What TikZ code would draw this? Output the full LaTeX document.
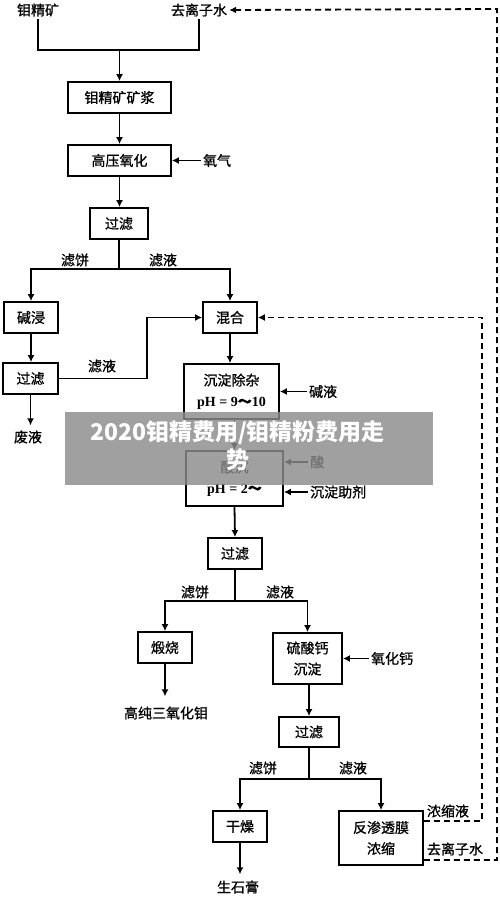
\documentclass[tikz,border=0pt]{standalone}
\usepackage{fontspec}
\setmainfont{Liberation Serif}
\newfontfamily\cjk{Noto Sans CJK SC}[FakeBold=0.9]
\newfontfamily\cjkmark{Noto Sans CJK SC}
\usetikzlibrary{arrows.meta, positioning, calc}
\tikzset{
    procbox/.style={rectangle, draw=black, line width=1.8pt, font=\cjk\fontsize{14}{21}\selectfont, align=center, inner sep=0pt},
    tagtext/.style={font=\cjk\fontsize{14}{17}\selectfont, inner sep=2pt},
    flowline/.style={line width=1.8pt, black},
    flowarr/.style={flowline, -{Latex[length=7pt,width=7pt]}},
    backloop/.style={line width=1.8pt, black, dash pattern=on 6pt off 4pt, -{Latex[length=7pt,width=7pt]}},
}

\begin{document}
\begin{tikzpicture}[x=1pt,y=-1pt,
  wmband/.style={rectangle, fill=black!45, fill opacity=0.82, draw=none, minimum width=368pt, minimum height=73pt},
  wmtext/.style={font=\cjkmark\bfseries\fontsize{23}{28}\selectfont, text=white, align=center}
]
\fill[white] (0,0) rectangle (500,897);
\useasboundingbox (0,0) rectangle (500,897);

% feeds
\node[tagtext] (ore) at (38,10) {钼精矿};
\node[tagtext] (water) at (199,10) {去离子水};
\coordinate (feedjoin) at (119.5,50);

% main line
\node[procbox,minimum width=103pt,minimum height=31pt] (slurry) at (119.5,97.5) {钼精矿矿浆};
\node[procbox,minimum width=103pt,minimum height=31pt] (oxid) at (119.5,160.5) {高压氧化};
\node[tagtext,right=29pt of oxid] (oxygen) {氧气};
\node[procbox,minimum width=58pt,minimum height=31pt] (filtA) at (119,223.5) {过滤};
\coordinate (splitA) at (119,269);
\node[tagtext] at (75,260) {滤饼};
\node[tagtext] at (163,260) {滤液};

\node[procbox,minimum width=54pt,minimum height=31pt] (leach) at (31,317.5) {碱浸};
\node[procbox,minimum width=54pt,minimum height=31pt] (mix) at (230,317.5) {混合};
\node[procbox,minimum width=55pt,minimum height=31pt] (filtB) at (30.5,378.5) {过滤};
\node[tagtext] (waste) at (28,437) {废液};
\coordinate (turnB) at (147,378.5);
\node[tagtext] at (102,366) {滤液};

\node[procbox,minimum width=95pt,minimum height=55pt] (purify) at (231.5,391.5) {沉淀除杂\\{\rmfamily\bfseries pH = 9{\cjk ～}10}};
\node[tagtext,right=27pt of purify] (alkali) {碱液};
\node[procbox,minimum width=97pt,minimum height=55pt] (acid) at (234.5,478.5) {酸沉\\{\rmfamily\bfseries pH = 2{\cjk ～}}};
\node[tagtext,anchor=west] (acidin) at (308,462) {酸};
\node[tagtext,anchor=west] (aid) at (308,492) {沉淀助剂};
\node[procbox,minimum width=54pt,minimum height=31pt] (filtC) at (235,553.5) {过滤};
\coordinate (splitC) at (235,601);
\node[tagtext] at (195,592) {滤饼};
\node[tagtext] at (280,592) {滤液};

\node[procbox,minimum width=54pt,minimum height=31pt] (calcine) at (165,647.5) {煅烧};
\node[tagtext] (product) at (166,713) {高纯三氧化钼};
\node[procbox,minimum width=69pt,minimum height=51pt] (gypsum) at (307.5,658.5) {硫酸钙\\沉淀};
\node[tagtext,right=26pt of gypsum] (lime) {氧化钙};
\node[procbox,minimum width=60pt,minimum height=30pt] (filtD) at (309,732) {过滤};
\coordinate (splitD) at (309,779);
\node[tagtext] at (263,768) {滤饼};
\node[tagtext] at (353,768) {滤液};

\node[procbox,minimum width=54pt,minimum height=31pt] (dry) at (240,826.5) {干燥};
\node[tagtext] (plaster) at (238,887) {生石膏};
\node[procbox,minimum width=84pt,minimum height=54pt] (ro) at (381,838) {反渗透膜\\浓缩};
\node[tagtext] at (448,811) {浓缩液};
\node[tagtext] at (455,849) {去离子水};
\coordinate (loopA) at (482,317.5);
\coordinate (loopB) at (497,9);

% connectors
\draw[flowline] (ore.south) |- (feedjoin) -| (water.south);
\draw[flowarr] (feedjoin) -- (slurry.north);
\draw[flowarr] (slurry.south) -- (oxid.north);
\draw[flowarr] (oxygen.west) -- (oxygen.west -| oxid.east);
\draw[flowarr] (oxid.south) -- (oxid.south |- filtA.north);
\draw[flowline] (filtA.south) -- (splitA);
\draw[flowarr] (splitA) -| (leach.north);
\draw[flowarr] (splitA) -| (mix.north);
\draw[flowarr] (leach.south) -- (leach.south |- filtB.north);
\draw[flowarr,shorten >=3pt] (filtB.south) -- (filtB.south |- waste.north);
\draw[flowarr] (filtB.east) -- (turnB) |- (mix.west);
\draw[flowarr] (mix.south) -- (mix.south |- purify.north);
\draw[flowarr] (alkali.west) -- (alkali.west -| purify.east);
\draw[flowarr] (acid.north |- purify.south) -- (acid.north);
\draw[flowarr] (acidin.west) -- (acidin.west -| acid.east);
\draw[flowarr] (aid.west) -- (aid.west -| acid.east);
\draw[flowarr] (acid.south) -- (filtC.north);
\draw[flowline] (filtC.south) -- (splitC);
\draw[flowarr] (splitC) -| (calcine.north);
\draw[flowarr] (splitC) -| (gypsum.north);
\draw[flowarr,shorten >=8pt] (calcine.south) -- (calcine.south |- product.north);
\draw[flowarr] (lime.west) -- (lime.west -| gypsum.east);
\draw[flowarr] (filtD.north |- gypsum.south) -- (filtD.north);
\draw[flowline] (filtD.south) -- (splitD);
\draw[flowarr] (splitD) -| (dry.north);
\draw[flowarr] (splitD) -| (ro.north);
\draw[flowarr,shorten >=4pt] (dry.south) -- (dry.south |- plaster.north);

% recycle loops
\draw[backloop] ($(ro.north east)+(0,11)$) -| (loopA) -- (mix.east);
\draw[backloop] ($(ro.south east)+(0,-6)$) -| (loopB) -- (water.east);

% overlay
\node[wmband] (band) at (249,448.5) {};
\node[wmtext] (mark) at (237.5,446) {2020钼精费用/钼精粉费用走\\势};
\end{tikzpicture}
\end{document}
